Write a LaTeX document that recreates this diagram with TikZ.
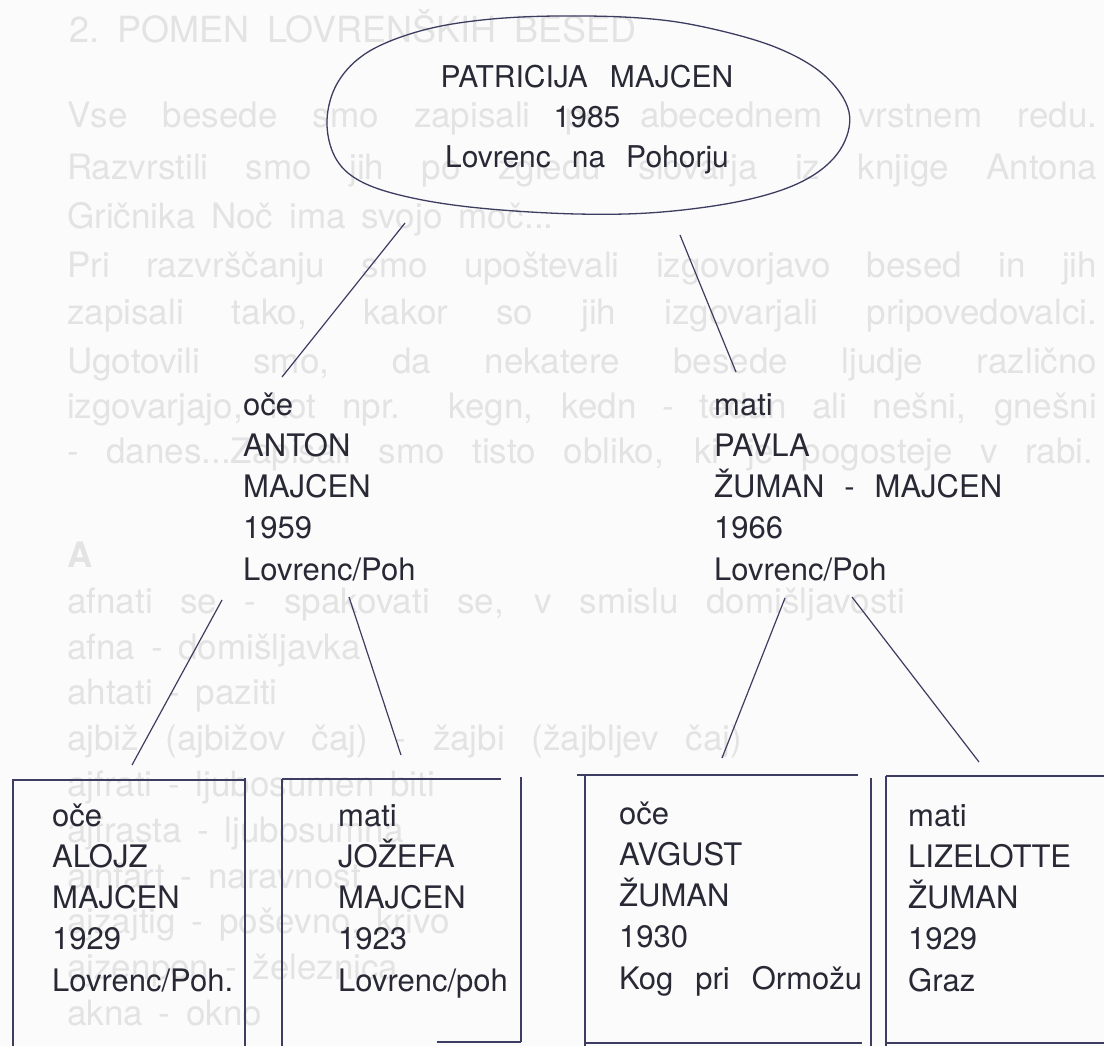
\documentclass[tikz,border=0pt]{standalone}
\usepackage{fontspec}
\setmainfont{TeX Gyre Heros}
\definecolor{ink}{rgb}{0.16,0.16,0.21}
\definecolor{rulec}{rgb}{0.24,0.24,0.38}
\definecolor{paper}{rgb}{0.985,0.985,0.985}
\definecolor{ghost}{rgb}{0.89,0.89,0.895}
\newcommand\stack[1]{\begin{tabular}[t]{@{}l@{}}#1\end{tabular}}
\newcommand\cstack[1]{\begin{tabular}[t]{@{}c@{}}#1\end{tabular}}
\newcommand\jl[2]{\makebox[#1pt][s]{#2}}
\newcommand\ghostfont{\fontsize{35}{40}\selectfont\spaceskip=.45em plus 3em minus .1em\relax}
\newcommand\ghosttitle{\fontsize{36}{40}\selectfont\spaceskip=.5em\relax}
\newcommand\ghostbold{\fontsize{35}{40}\selectfont\bfseries}
\newcommand\personfont{\fontsize{31}{41.3}\selectfont}
\newcommand\rootfont{\fontsize{30}{41.3}\selectfont}
\tikzset{
  person/.style={anchor=base west, inner sep=0pt, text=ink, font=\personfont},
  link/.style={draw=rulec, line width=1.2pt},
  frame/.style={draw=rulec, line width=1.4pt},
  faint/.style={anchor=base west, inner sep=0pt, text=ghost, font=\ghostfont},
}
\begin{document}
\begin{tikzpicture}[x=1pt,y=-1pt]
\useasboundingbox (0,0) rectangle (1104,1046);
\fill[paper] (0,0) rectangle (1104,1046);

% faint text of the page showing through
\node[faint, font=\ghosttitle] (g0) at (69,43) {2.\ POMEN LOVRENŠKIH BESED};
\node[faint] (g1) at (67,128) {\jl{1030}{Vse besede smo zapisali po abecednem vrstnem redu.}};
\node[faint] (g2) at (67,180) {\jl{1030}{Razvrstili smo jih po zgledu slovarja iz knjige Antona}};
\node[faint] (g3) at (67,229) {Gričnika Noč ima svojo moč...};
\node[faint] (g4) at (67,277) {\jl{1030}{Pri razvrščanju smo upoštevali izgovorjavo besed in jih}};
\node[faint] (g5) at (67,324) {\jl{1030}{zapisali tako, kakor so jih izgovarjali pripovedovalci.}};
\node[faint] (g6) at (67,373) {\jl{1030}{Ugotovili smo, da nekatere besede ljudje različno}};
\node[faint] (g7) at (67,418) {\jl{1030}{izgovarjajo, kot npr. kegn, kedn - tedan ali nešni, gnešni}};
\node[faint] (g8) at (67,463) {\jl{1026}{- danes...Zapisali smo tisto obliko, ki je pogosteje v rabi.}};
\node[faint, font=\ghostbold] (g9) at (67,567) {A};
\node[faint] (g10) at (67,613) {\jl{838}{afnati se - spakovati se, v smislu domišljavosti}};
\node[faint] (g11) at (67,659) {afna - domišljavka};
\node[faint] (g12) at (67,704) {ahtati - paziti};
\node[faint] (g13) at (67,750) {\jl{675}{ajbiž (ajbižov čaj) - žajbi (žajbljev čaj)}};
\node[faint] (g14) at (67,796) {ajfrati - ljubosumen biti};
\node[faint] (g15) at (67,842) {ajfrasta - ljubosumna};
\node[faint] (g16) at (67,888) {ajnfart - naravnost};
\node[faint] (g17) at (67,933) {ajzajtig - poševno, krivo};
\node[faint] (g18) at (67,979) {ajzenpon - železnica};
\node[faint] (g19) at (67,1025) {akna - okno};

% root: hand-drawn oval round the child
\node[person, anchor=base, font=\rootfont] (root) at (587,88) {\cstack{PATRICIJA\hspace{22pt}MAJCEN\\[-1.3pt]1985\\[-1.3pt]Lovrenc\hspace{21pt}na\hspace{21pt}Pohorju}};
\draw[frame, line width=1.3pt] plot[smooth cycle, tension=0.6] coordinates {
  (327,120) (338,82) (368,52) (420,31) (482,20) (556,16) (640,18) (704,27)
  (775,47) (824,75) (849,112) (840,150) (805,180) (746,200) (662,212)
  (577,214) (479,208) (408,197) (360,181) (335,157)};

% parents
\node[person] (father) at (243,415) {\stack{oče\\ANTON\\MAJCEN\\1959\\Lovrenc/Poh}};
\node[person] (mother) at (714,415) {\stack{mati\\PAVLA\\ŽUMAN\hspace{20pt}-\hspace{20pt}MAJCEN\\1966\\Lovrenc/Poh}};

% grandparents
\node[person] (gf1) at (52,826) {\stack{oče\\ALOJZ\\MAJCEN\\1929\\Lovrenc/Poh.}};
\node[person] (gm1) at (338,826) {\stack{mati\\JOŽEFA\\MAJCEN\\1923\\Lovrenc/poh}};
\node[person] (gf2) at (619,824) {\stack{oče\\AVGUST\\ŽUMAN\\1930\\Kog\hspace{22pt}pri\hspace{22pt}Ormožu}};
\node[person] (gm2) at (908,826) {\stack{mati\\LIZELOTTE\\ŽUMAN\\1929\\Graz}};

% boxes (hand ruled, open at the page edge)
\draw[frame] (12,780) -- (244,780) (13,780) -- (13,1046) (245,778) -- (245,1046);
\draw[frame] (282,779) -- (501,779) (282,779) -- (282,1046) (521,777) -- (521,1042) (437,1042) -- (521,1042);
\draw[frame] (577,775) -- (858,775) (585,775) -- (585,1046) (871,778) -- (871,1046) (584,1043) -- (862,1043);
\draw[frame] (886,776) -- (1104,776) (886,776) -- (886,1046) (886,1043) -- (1104,1043);

% connector ends
\coordinate (r1) at (405,223); \coordinate (f1) at (282,377);
\coordinate (r2) at (680,235); \coordinate (m1) at (736,372);
\coordinate (f2) at (222,600); \coordinate (b1) at (132,765);
\coordinate (f3) at (349,597); \coordinate (b2) at (401,755);
\coordinate (m2) at (785,598); \coordinate (b3) at (722,758);
\coordinate (m3) at (852,597); \coordinate (b4) at (979,762);
\draw[link] (r1) -- (f1);
\draw[link] (r2) -- (m1);
\draw[link] (f2) -- (b1);
\draw[link] (f3) -- (b2);
\draw[link] (m2) -- (b3);
\draw[link] (m3) -- (b4);
\end{tikzpicture}
\end{document}
